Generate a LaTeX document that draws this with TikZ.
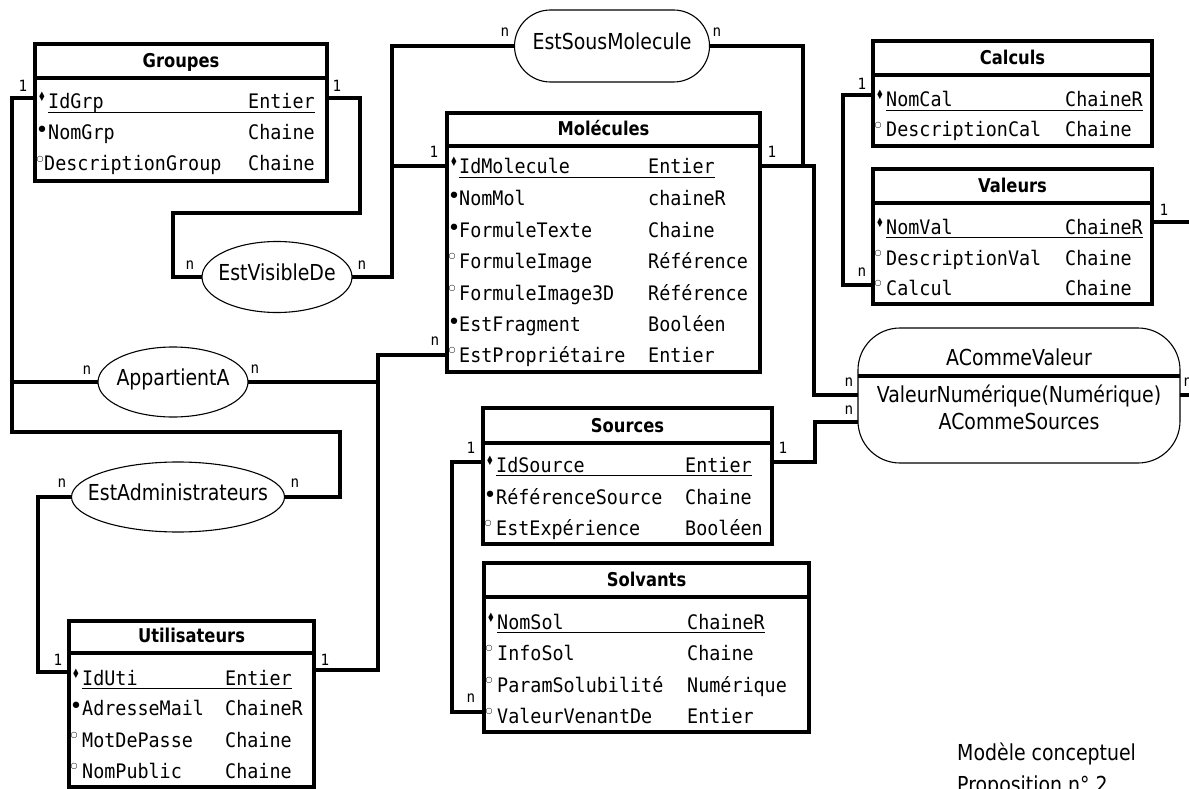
\documentclass[tikz,border=0pt]{standalone}
\usepackage{fontspec}
\setmainfont{DejaVu Sans}[FakeStretch=0.86]
\newfontfamily\monof{DejaVu Sans Mono}[FakeStretch=0.92]
\newfontfamily\symf{DejaVu Sans}
\newfontfamily\diamf{DejaVu Sans}[FakeStretch=0.7]
\usetikzlibrary{shapes.geometric}

\tikzset{
  ent/.style={draw, line width=4pt, inner sep=0pt, outer sep=0pt, anchor=north west},
  conn/.style={line width=4pt, line join=miter},
  sepline/.style={line width=4pt},
  uline/.style={line width=1.6pt},
  ttl/.style={font=\fontsize{19}{22}\selectfont\bfseries, inner sep=0pt, text height=0.73em, text depth=0pt},
  attr/.style={font=\monof\fontsize{20}{22}\selectfont, inner sep=0pt, anchor=base west},
  card/.style={font=\monof\fontsize{15.5}{16}\selectfont, inner sep=0pt, anchor=base},
  cone/.style={card, yshift=-5.5pt},
  cen/.style={card, yshift=-4pt},
  rel/.style={draw, line width=1.1pt, inner sep=0pt, outer sep=0pt},
  relell/.style={rel, ellipse},
  reltxt/.style={font=\fontsize{22}{24}\selectfont, inner sep=0pt, text height=0.73em, text depth=0pt},
  mkk/.style={inner sep=0pt, anchor=base, font=\diamf\fontsize{13}{13}\selectfont},
  mkb/.style={inner sep=0pt, anchor=base, font=\symf\fontsize{22}{22}\selectfont},
  mko/.style={inner sep=0pt, anchor=center, font=\symf\fontsize{8}{8}\selectfont},
  note/.style={font=\fontsize{22}{24}\selectfont, inner sep=0pt, anchor=base west},
}

% entity: id, x1, y1, x2, y2, sepY, title
\newcommand\entity[7]{%
  \node[ent, minimum width={#4-#2}, minimum height={#5-#3}] (#1) at (#2,#3) {};
  \draw[sepline] (#2,#6) -- (#4,#6);
  \node[ttl] (#1-title) at ({(#2+#4)/2},#6-14) {#7};
}
\newcommand\mkK[3]{\node[mkk] (#1m) at (#2+7,#3) {♦};}
\newcommand\mkB[3]{\node[mkb] (#1m) at (#2+7,#3+5) {•};}
\newcommand\mkO[3]{\node[mko] (#1m) at (#2+5,#3-5) {○};}
% row: id, x1, rowc, marker(K/B/O), name offset, name, typex, type
\newcommand\arow[8]{%
  \csname mk#4\endcsname{#1}{#2}{#3}
  \node[attr] (#1n) at (#2+#5,#3+7) {#6};
  \node[attr] (#1t) at (#7,#3+7) {#8};
}
\newcommand\keyul[1]{\draw[uline] ([yshift=-3.5pt]#1n.base west) -- ([yshift=-3.5pt]#1t.base east);}

\begin{document}
\begin{tikzpicture}[x=1pt,y=-1pt]
\useasboundingbox (0,0) rectangle (1189,789);

% ---------- Entities ----------
\entity{grp}{35}{44}{327}{181}{78}{Groupes}
\arow{grpA}{35}{102}{K}{13}{IdGrp}{248}{Entier}\keyul{grpA}
\arow{grpB}{35}{133}{B}{13}{NomGrp}{248}{Chaine}
\arow{grpC}{35}{164}{O}{9}{DescriptionGroup}{248}{Chaine}

\entity{mol}{447}{113}{760}{372}{146}{Molécules}
\arow{molA}{447}{167}{K}{12}{IdMolecule}{648}{Entier}\keyul{molA}
\arow{molB}{447}{198}{B}{12}{NomMol}{648}{chaineR}
\arow{molC}{447}{230}{B}{12}{FormuleTexte}{648}{Chaine}
\arow{molD}{447}{261}{O}{12}{FormuleImage}{648}{Référence}
\arow{molE}{447}{293}{O}{12}{FormuleImage3D}{648}{Référence}
\arow{molF}{447}{324}{B}{12}{EstFragment}{648}{Booléen}
\arow{molG}{447}{355}{O}{12}{EstPropriétaire}{648}{Entier}

\entity{cal}{873}{41}{1152}{146}{75}{Calculs}
\arow{calA}{873}{100}{K}{13}{NomCal}{1065}{ChaineR}\keyul{calA}
\arow{calB}{873}{130}{O}{13}{DescriptionCal}{1065}{Chaine}

\entity{val}{873}{169}{1152}{304}{203}{Valeurs}
\arow{valA}{873}{227}{K}{13}{NomVal}{1065}{ChaineR}\keyul{valA}
\arow{valB}{873}{258}{O}{13}{DescriptionVal}{1065}{Chaine}
\arow{valC}{873}{288}{O}{13}{Calcul}{1065}{Chaine}

\entity{src}{483}{408}{772}{544}{443}{Sources}
\arow{srcA}{483}{465}{K}{13}{IdSource}{685}{Entier}\keyul{srcA}
\arow{srcB}{483}{497}{B}{13}{RéférenceSource}{685}{Chaine}
\arow{srcC}{483}{528}{O}{13}{EstExpérience}{685}{Booléen}

\entity{sol}{484}{563}{809}{732}{597}{Solvants}
\arow{solA}{484}{622}{K}{13}{NomSol}{687}{ChaineR}\keyul{solA}
\arow{solB}{484}{653}{O}{13}{InfoSol}{687}{Chaine}
\arow{solC}{484}{685}{O}{13}{ParamSolubilité}{687}{Numérique}
\arow{solD}{484}{716}{O}{13}{ValeurVenantDe}{687}{Entier}

\entity{uti}{69}{621}{314}{787}{653}{Utilisateurs}
\arow{utiA}{69}{678}{K}{13}{IdUti}{225}{Entier}\keyul{utiA}
\arow{utiB}{69}{708}{B}{13}{AdresseMail}{225}{ChaineR}
\arow{utiC}{69}{740}{O}{13}{MotDePasse}{225}{Chaine}
\arow{utiD}{69}{771}{O}{13}{NomPublic}{225}{Chaine}

% ---------- Relations ----------
\node[rel, rounded corners=36pt, minimum width=195pt, minimum height=72pt] (esm) at (612,46) {};
\node[reltxt] (esmT) at (esm.center) {EstSousMolecule};
\node[relell, minimum width=150pt, minimum height=71pt] (evd) at (277,277) {};
\node[reltxt] (evdT) at (evd.center) {EstVisibleDe};
\node[relell, minimum width=150pt, minimum height=70pt] (app) at (173,382) {};
\node[reltxt] (appT) at (app.center) {AppartientA};
\node[relell, minimum width=213pt, minimum height=70pt] (adm) at (178,497) {};
\node[reltxt] (admT) at (adm.center) {EstAdministrateurs};
\node[rel, rounded corners=42pt, minimum width=322pt, minimum height=135pt] (acv) at (1019,395.5) {};
\draw[sepline] (acv.west |- 0,376) -- (acv.east |- 0,376);
\node[reltxt] (acvA) at (1019,362) {ACommeValeur};
\node[reltxt] (acvB) at (1019,399) {ValeurNumérique(Numérique)};
\node[reltxt] (acvC) at (1019,426) {ACommeSources};

\coordinate (vend) at (1192,222);
\coordinate (aend) at (1192,395);

% ---------- Connectors ----------
\draw[conn] (grp.west |- 0,98) -- (12,98) -- (12,432) -- (340,432) -- (340,497) -- (adm.east);
\draw[conn] (12,382) -- (app.west);
\draw[conn] (grp.east |- 0,98) -- (360,98) -- (360,213) -- (173,213) -- (173,277) -- (evd.west);
\draw[conn] (mol.west |- 0,166) -- (392,166);
\draw[conn] (esm.west) -- (392,46) -- (392,277) -- (evd.east);
\draw[conn] (esm.east) -- (803,46) -- (803,166);
\draw[conn] (mol.east |- 0,166) -- (814,166) -- (814,395) -- (acv.west |- 0,395);
\draw[conn] (mol.west |- 0,355) -- (378,355) -- (378,670) -- (uti.east |- 0,670);
\draw[conn] (app.east) -- (378,382);
\draw[conn] (adm.west) -- (38,497) -- (38,672) -- (uti.west |- 0,672);
\draw[conn] (cal.west |- 0,95) -- (843,95) -- (843,285) -- (val.west |- 0,285);
\draw[conn] (val.east |- 0,222) -- (vend);
\draw[conn] (src.east |- 0,462) -- (815,462) -- (815,422) -- (acv.west |- 0,422);
\draw[conn] (acv.east |- 0,395) -- (aend);
\draw[conn] (src.west |- 0,462) -- (452,462) -- (452,712) -- (sol.west |- 0,712);

% ---------- Cardinalities ----------
\node[cone] (c1) at (23,86) {1};
\node[cone] (c2) at (337,86) {1};
\node[cone] (c3) at (434,152) {1};
\node[cone] (c4) at (772,152) {1};
\node[cen] (c5) at (505,33) {n};
\node[cen] (c6) at (717,33) {n};
\node[cen] (c7) at (190,265) {n};
\node[cen] (c8) at (362,265) {n};
\node[cen] (c9) at (435,341) {n};
\node[cen] (c10) at (255,369) {n};
\node[cen] (c11) at (87,370) {n};
\node[cen] (c12) at (62,483) {n};
\node[cen] (c13) at (295,483) {n};
\node[cone] (c14) at (58,660) {1};
\node[cone] (c15) at (325,660) {1};
\node[cone] (c16) at (862,84) {1};
\node[cen] (c17) at (862,272) {n};
\node[cone] (c18) at (1164,210) {1};
\node[cen] (c19) at (849,382) {n};
\node[cen] (c20) at (849,410) {n};
\node[cen] (c21) at (1188,382) {n};
\node[cone] (c22) at (783,448) {1};
\node[cone] (c23) at (471,448) {1};
\node[cen] (c24) at (471,698) {n};

% ---------- Note ----------
\node[note] (noteA) at (957,760) {Modèle conceptuel};
\node[note] (noteB) at (957,792) {Proposition n° 2};
\end{tikzpicture}
\end{document}
